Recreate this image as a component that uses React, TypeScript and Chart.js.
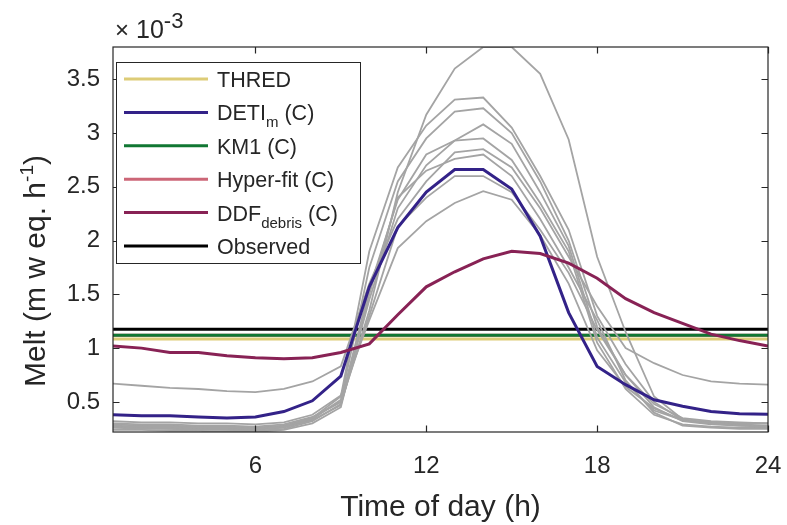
import React, { useEffect, useRef } from "react";
import { Chart, registerables } from "chart.js";

Chart.register(...registerables);

// Time of day (h)
const HOURS = [1, 2, 3, 4, 5, 6, 7, 8, 9, 10, 11, 12, 13, 14, 15, 16, 17, 18, 19, 20, 21, 22, 23, 24];
const X_TICKS = [6, 12, 18, 24];
const Y_TICKS = [0.5, 1, 1.5, 2, 2.5, 3, 3.5];
const Y_MIN = 0.22;
const Y_MAX = 3.8;

// Melt, in units of 1e-3 m w eq. h^-1
const DETI_M = [0.38, 0.37, 0.37, 0.36, 0.35, 0.36, 0.41, 0.51, 0.74, 1.57, 2.12, 2.45, 2.66, 2.66, 2.48, 2.04, 1.33, 0.83, 0.66, 0.52, 0.46, 0.41, 0.39, 0.385];
const DDF_DEBRIS = [1.02, 1.0, 0.96, 0.96, 0.93, 0.91, 0.9, 0.91, 0.96, 1.04, 1.31, 1.57, 1.71, 1.83, 1.9, 1.88, 1.79, 1.65, 1.46, 1.33, 1.23, 1.13, 1.07, 1.02];
const THRED_MEAN = 1.085;
const KM1_MEAN = 1.12;
const HYPER_FIT_MEAN = 1.12;
const OBSERVED_MEAN = 1.175;

// Grey ensemble runs
const RUN_1 = [0.26, 0.25, 0.25, 0.24, 0.24, 0.23, 0.25, 0.32, 0.48, 1.35, 2.45, 3.17, 3.6, 3.8, 3.8, 3.55, 2.94, 1.85, 1.15, 0.55, 0.34, 0.3, 0.28, 0.27];
const RUN_2 = [0.28, 0.27, 0.27, 0.26, 0.26, 0.25, 0.27, 0.35, 0.55, 1.9, 2.68, 3.07, 3.31, 3.33, 3.05, 2.6, 2.1, 1.3, 0.85, 0.5, 0.33, 0.3, 0.29, 0.28];
const RUN_3 = [0.27, 0.27, 0.26, 0.26, 0.25, 0.25, 0.27, 0.34, 0.52, 1.75, 2.55, 2.95, 3.2, 3.23, 3.0, 2.55, 2.0, 1.2, 0.75, 0.45, 0.32, 0.29, 0.28, 0.27];
const RUN_4 = [0.3, 0.29, 0.29, 0.28, 0.28, 0.27, 0.29, 0.36, 0.5, 1.55, 2.38, 2.8, 2.93, 3.08, 2.9, 2.45, 1.95, 1.1, 0.68, 0.42, 0.33, 0.31, 0.3, 0.3];
const RUN_5 = [0.26, 0.26, 0.25, 0.25, 0.24, 0.24, 0.26, 0.33, 0.47, 1.45, 2.3, 2.7, 2.93, 2.95, 2.75, 2.35, 1.9, 1.05, 0.62, 0.38, 0.29, 0.27, 0.26, 0.26];
const RUN_6 = [0.67, 0.65, 0.63, 0.62, 0.6, 0.59, 0.62, 0.69, 0.83, 1.6, 2.2, 2.55, 2.82, 2.85, 2.68, 2.3, 1.85, 1.39, 1.0, 0.86, 0.75, 0.69, 0.67, 0.66];
const RUN_7 = [0.29, 0.28, 0.28, 0.27, 0.27, 0.26, 0.28, 0.35, 0.5, 1.3, 2.13, 2.4, 2.6, 2.6, 2.45, 2.1, 1.7, 1.17, 0.75, 0.48, 0.35, 0.32, 0.31, 0.3];
const RUN_8 = [0.32, 0.31, 0.31, 0.3, 0.3, 0.29, 0.31, 0.38, 0.56, 1.26, 1.93, 2.18, 2.35, 2.46, 2.38, 2.05, 1.6, 0.98, 0.64, 0.44, 0.33, 0.31, 0.3, 0.3];
const RUN_9 = [0.24, 0.24, 0.23, 0.23, 0.22, 0.22, 0.24, 0.3, 0.45, 1.5, 2.4, 2.65, 2.76, 2.8, 2.6, 2.2, 1.75, 1.26, 0.7, 0.4, 0.28, 0.26, 0.25, 0.25];
const RUNS = [RUN_1, RUN_2, RUN_3, RUN_4, RUN_5, RUN_6, RUN_7, RUN_8, RUN_9];

const C_THRED = "#DDCC77";
const C_DETI = "#332288";
const C_KM1 = "#117733";
const C_HYPER = "#CC6677";
const C_DDF = "#882255";
const C_OBS = "#000000";
const C_GREY = "#a4a4a4";
const C_TEXT = "#262626";
const FONT = "'Liberation Sans', Arial, Helvetica, sans-serif";

type Piece = { t: string; sub?: boolean };
const LEGEND: { color: string; parts: Piece[] }[] = [
  { color: C_THRED, parts: [{ t: "THRED" }] },
  { color: C_DETI, parts: [{ t: "DETI" }, { t: "m", sub: true }, { t: " (C)" }] },
  { color: C_KM1, parts: [{ t: "KM1 (C)" }] },
  { color: C_HYPER, parts: [{ t: "Hyper-fit (C)" }] },
  { color: C_DDF, parts: [{ t: "DDF" }, { t: "debris", sub: true }, { t: " (C)" }] },
  { color: C_OBS, parts: [{ t: "Observed" }] },
];

const pts = (arr: number[]) => HOURS.map((h, i) => ({ x: h, y: arr[i] }));
const flat = (v: number) => HOURS.map((h) => ({ x: h, y: v }));

const decorPlugin = {
  id: "decor",
  afterDraw(chart: any) {
    const { ctx, chartArea: a, scales } = chart;
    const xs = scales.x;
    const ys = scales.y;
    ctx.save();
    // axes box
    ctx.strokeStyle = C_TEXT;
    ctx.lineWidth = 1.2;
    ctx.strokeRect(a.left, a.top, a.right - a.left, a.bottom - a.top);
    // inward ticks on all sides
    ctx.beginPath();
    X_TICKS.forEach((t) => {
      const px = Math.round(xs.getPixelForValue(t)) + 0.5;
      ctx.moveTo(px, a.bottom);
      ctx.lineTo(px, a.bottom - 6.5);
      ctx.moveTo(px, a.top);
      ctx.lineTo(px, a.top + 6.5);
    });
    Y_TICKS.forEach((t) => {
      const py = Math.round(ys.getPixelForValue(t)) + 0.5;
      ctx.moveTo(a.left, py);
      ctx.lineTo(a.left + 6.5, py);
      ctx.moveTo(a.right, py);
      ctx.lineTo(a.right - 6.5, py);
    });
    ctx.stroke();

    ctx.fillStyle = C_TEXT;
    ctx.textBaseline = "alphabetic";
    // exponent label
    ctx.textAlign = "left";
    ctx.font = `24px ${FONT}`;
    ctx.fillText("\u00d7", a.left + 2, a.top - 9);
    ctx.font = `25px ${FONT}`;
    ctx.fillText("10", a.left + 23, a.top - 9);
    const w10 = ctx.measureText("10").width;
    ctx.font = `22px ${FONT}`;
    ctx.fillText("-3", a.left + 23 + w10, a.top - 19);

    // x title
    ctx.font = `30px ${FONT}`;
    ctx.textAlign = "center";
    ctx.fillText("Time of day (h)", (a.left + a.right) / 2, 516);

    // y title (rotated)
    ctx.save();
    ctx.translate(34, 387);
    ctx.rotate(-Math.PI / 2);
    ctx.textAlign = "left";
    let cx = 0;
    ctx.font = `30px ${FONT}`;
    ctx.fillText("Melt (m w eq. h", cx, 11);
    cx += ctx.measureText("Melt (m w eq. h").width;
    ctx.font = `19px ${FONT}`;
    ctx.fillText("-1", cx, -1);
    cx += ctx.measureText("-1").width;
    ctx.font = `30px ${FONT}`;
    ctx.fillText(")", cx, 11);
    ctx.restore();

    // legend
    const lx = a.left + 3;
    const ly = a.top + 15;
    const lw = 244;
    const lh = 201;
    ctx.fillStyle = "#ffffff";
    ctx.fillRect(lx, ly, lw, lh);
    ctx.strokeStyle = C_TEXT;
    ctx.lineWidth = 1;
    ctx.strokeRect(lx + 0.5, ly + 0.5, lw, lh);
    LEGEND.forEach((item, i) => {
      const ry = ly + 17 + i * 33.4;
      ctx.strokeStyle = item.color;
      ctx.lineWidth = 3;
      ctx.beginPath();
      ctx.moveTo(lx + 8, ry);
      ctx.lineTo(lx + 92, ry);
      ctx.stroke();
      ctx.fillStyle = C_TEXT;
      ctx.textAlign = "left";
      let tx = lx + 101;
      item.parts.forEach((p) => {
        ctx.font = p.sub ? `15px ${FONT}` : `21.5px ${FONT}`;
        ctx.fillText(p.t, tx, p.sub ? ry + 15 : ry + 8);
        tx += ctx.measureText(p.t).width;
      });
    });
    ctx.restore();
  },
};

export default function App() {
  const ref = useRef<HTMLCanvasElement | null>(null);
  useEffect(() => {
    document.body.style.margin = "0";
    const canvas = ref.current;
    if (!canvas) return;
    const lineDs = (label: string, data: any[], color: string, width: number) => ({
      label,
      data,
      borderColor: color,
      backgroundColor: color,
      borderWidth: width,
      pointRadius: 0,
      tension: 0,
      fill: false,
    });
    // first dataset is drawn on top
    const datasets: any[] = [
      lineDs("DDF debris (C)", pts(DDF_DEBRIS), C_DDF, 3),
      lineDs("DETI m (C)", pts(DETI_M), C_DETI, 3),
      ...RUNS.map((r, i) => lineDs(`run ${i + 1}`, pts(r), C_GREY, 1.8)),
      lineDs("Observed", flat(OBSERVED_MEAN), C_OBS, 3),
      lineDs("KM1 (C)", flat(KM1_MEAN), C_KM1, 3),
      lineDs("Hyper-fit (C)", flat(HYPER_FIT_MEAN), C_HYPER, 3),
      lineDs("THRED", flat(THRED_MEAN), C_THRED, 3),
    ];
    const chart = new Chart(canvas, {
      type: "line",
      data: { datasets },
      plugins: [decorPlugin],
      options: {
        animation: false,
        responsive: false,
        maintainAspectRatio: false,
        layout: { padding: { left: 0, right: 19, top: 47, bottom: 0 } },
        plugins: { legend: { display: false }, tooltip: { enabled: false } },
        scales: {
          x: {
            type: "linear",
            min: 1,
            max: 24,
            grid: { display: false, drawTicks: false },
            border: { display: false },
            afterBuildTicks: (s: any) => {
              s.ticks = X_TICKS.map((v) => ({ value: v }));
            },
            afterFit: (s: any) => {
              s.height = 93;
              s.paddingLeft = 0;
              s.paddingRight = 0;
            },
            ticks: {
              autoSkip: false,
              maxRotation: 0,
              padding: 20,
              color: C_TEXT,
              font: { family: FONT, size: 24 },
              callback: (v: any) => String(v),
            },
          },
          y: {
            type: "linear",
            min: Y_MIN,
            max: Y_MAX,
            grid: { display: false, drawTicks: false },
            border: { display: false },
            afterBuildTicks: (s: any) => {
              s.ticks = Y_TICKS.map((v) => ({ value: v }));
            },
            afterFit: (s: any) => {
              s.width = 113;
              s.paddingTop = 0;
              s.paddingBottom = 0;
            },
            ticks: {
              autoSkip: false,
              padding: 13,
              color: C_TEXT,
              font: { family: FONT, size: 24 },
              callback: (v: any) => String(v),
            },
          },
        },
      },
    });
    return () => chart.destroy();
  }, []);
  return (
    <div style={{ width: 787, height: 525 }}>
      <canvas ref={ref} width={787} height={525} style={{ display: "block" }} />
    </div>
  );
}
